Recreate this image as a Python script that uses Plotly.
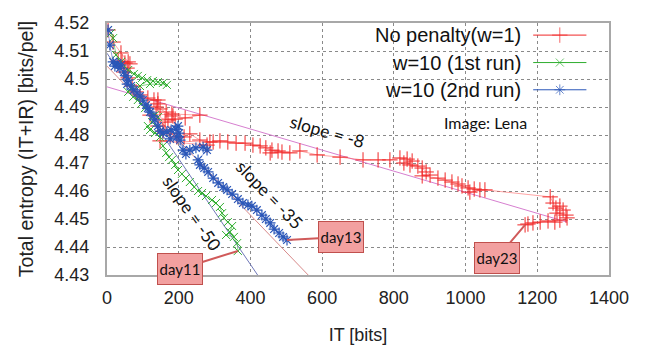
import plotly.graph_objects as go

# ---- data: IT [bits] vs total entropy [bits/pel] per iteration ----
red_it = [3, 17, 39, 59, 42, 31, 50, 64, 56, 47, 59, 70, 81, 92, 114, 131, 142, 142, 137, 148,
          165, 184, 190, 170, 120, 181, 259, 218, 162, 142, 156, 176, 195, 215, 231, 259, 287, 279,
          148, 296, 315, 337, 360, 385, 407, 427, 443, 460, 477, 488, 455, 510, 538, 586, 650, 714,
          756, 789, 817, 837, 851, 828, 845, 867, 879, 890, 901, 879, 923, 943, 962, 979, 990, 1007,
          1024, 1040, 1012, 1054, 1236, 1244, 1252, 1263, 1272, 1255, 1280, 1283, 1263, 1249, 1230,
          1208, 1188, 1174, 1166]
red_h = [4.5175, 4.5132, 4.5093, 4.5061, 4.5061, 4.5064, 4.5057, 4.5054, 4.5039, 4.5025, 4.5004,
         4.4975, 4.4954, 4.4943, 4.4932, 4.4925, 4.4925, 4.4911, 4.4900, 4.4893, 4.4882, 4.4868,
         4.4857, 4.4854, 4.4871, 4.4875, 4.4871, 4.4861, 4.4846, 4.4832, 4.4814, 4.4804, 4.4793,
         4.4793, 4.4804, 4.4782, 4.4775, 4.4764, 4.4779, 4.4775, 4.4779, 4.4775, 4.4771, 4.4771,
         4.4764, 4.4761, 4.4754, 4.4746, 4.4743, 4.4739, 4.4736, 4.4736, 4.4743, 4.4729, 4.4721,
         4.4711, 4.4711, 4.4711, 4.4718, 4.4714, 4.4707, 4.4700, 4.4693, 4.4689, 4.4682, 4.4668,
         4.4657, 4.4654, 4.4646, 4.4639, 4.4632, 4.4625, 4.4618, 4.4611, 4.4607, 4.4604, 4.4596,
         4.4604, 4.4579, 4.4557, 4.4539, 4.4546, 4.4532, 4.4521, 4.4514, 4.4504, 4.4496, 4.4489,
         4.4493, 4.4489, 4.4486, 4.4482, 4.4479]

green_it = [3, 11, 17, 25, 39, 59, 75, 86, 98, 112, 128, 142, 156, 167, 120, 92, 67, 59, 73, 86,
            95, 106, 120, 134, 142, 126, 114, 120, 134, 148, 156, 165, 173, 181, 190, 198, 209, 220,
            231, 243, 254, 265, 276, 293, 304, 315, 321, 326, 337, 349, 343, 332, 354, 363, 365]
green_h = [4.5175, 4.5164, 4.5146, 4.5086, 4.5061, 4.5032, 4.5018, 4.5011, 4.5004, 4.4996, 4.4993,
           4.4989, 4.4986, 4.4979, 4.4982, 4.4975, 4.4968, 4.4954, 4.4936, 4.4925, 4.4911, 4.4896,
           4.4882, 4.4871, 4.4864, 4.4846, 4.4832, 4.4818, 4.4807, 4.4793, 4.4761, 4.4736, 4.4721,
           4.4711, 4.4693, 4.4675, 4.4661, 4.4646, 4.4632, 4.4614, 4.4600, 4.4593, 4.4582, 4.4568,
           4.4557, 4.4543, 4.4521, 4.4504, 4.4489, 4.4475, 4.4454, 4.4443, 4.4436, 4.4414, 4.4386]

blue_it = [3, 8, 17, 28, 39, 22, 36, 47, 53, 59, 56, 67, 75, 84, 92, 100, 109, 114, 120, 128, 134,
           142, 148, 156, 167, 179, 192, 198, 201, 195, 176, 204, 212, 220, 231, 248, 268, 279, 254,
           259, 271, 282, 296, 310, 324, 335, 349, 365, 379, 393, 404, 418, 432, 443, 455, 466, 480,
           491, 502]
blue_h = [4.5175, 4.5121, 4.5061, 4.5057, 4.5050, 4.5046, 4.5039, 4.5025, 4.5011, 4.4996, 4.4982,
          4.4975, 4.4961, 4.4950, 4.4939, 4.4925, 4.4907, 4.4896, 4.4882, 4.4868, 4.4854, 4.4832,
          4.4814, 4.4807, 4.4811, 4.4818, 4.4821, 4.4832, 4.4807, 4.4793, 4.4786, 4.4782, 4.4746,
          4.4732, 4.4746, 4.4754, 4.4757, 4.4746, 4.4711, 4.4693, 4.4682, 4.4668, 4.4646, 4.4629,
          4.4614, 4.4604, 4.4589, 4.4571, 4.4557, 4.4550, 4.4546, 4.4532, 4.4514, 4.4500, 4.4486,
          4.4464, 4.4450, 4.4436, 4.4425]

# reference slope lines (end points)
slope8_it, slope8_h = [0, 1283], [4.4972, 4.4489]
slope35_it, slope35_h = [0, 561], [4.5046, 4.4300]
slope50_it, slope50_h = [0, 420], [4.5092, 4.4300]

series_names = ["No penalty(w=1)", "w=10 (1st run)", "w=10 (2nd run)"]
x_ticks = [0, 200, 400, 600, 800, 1000, 1200, 1400]
y_ticks = [4.43, 4.44, 4.45, 4.46, 4.47, 4.48, 4.49, 4.50, 4.51, 4.52]

FONT = "Liberation Sans, Arial, sans-serif"
RED, RED_L = "#f02828", "rgba(255,90,90,0.55)"
GREEN, GREEN_L = "#2fae2f", "rgba(60,180,60,0.6)"
BLUE, BLUE_L = "#2a56b8", "rgba(70,100,200,0.6)"

fig = go.Figure()

# slope reference lines
for xs, ys, col in [(slope8_it, slope8_h, "#d77fd0"),
                    (slope35_it, slope35_h, "#d88a8a"),
                    (slope50_it, slope50_h, "#7078b8")]:
    fig.add_trace(go.Scatter(x=xs, y=ys, mode="lines", line=dict(color=col, width=1),
                             hoverinfo="skip"))

# trajectories
fig.add_trace(go.Scatter(x=red_it, y=red_h, mode="lines+markers", name=series_names[0],
                         line=dict(color=RED_L, width=1),
                         marker=dict(symbol="cross-thin-open", size=11,
                                     line=dict(color=RED, width=1), color=RED)))
fig.add_trace(go.Scatter(x=green_it, y=green_h, mode="lines+markers", name=series_names[1],
                         line=dict(color=GREEN_L, width=1),
                         marker=dict(symbol="x-thin-open", size=8,
                                     line=dict(color=GREEN, width=1), color=GREEN)))
fig.add_trace(go.Scatter(x=blue_it, y=blue_h, mode="lines+markers", name=series_names[2],
                         line=dict(color=BLUE_L, width=1),
                         marker=dict(symbol="asterisk-open", size=9,
                                     line=dict(color=BLUE, width=1.2), color=BLUE)))

# key samples drawn on an overlay axis spanning [0, 1]
key_rows = [0.952, 0.843, 0.735]
key_cols = [(RED, "cross-thin-open", 11), (GREEN, "x-thin-open", 8), (BLUE, "asterisk-open", 9)]
for row, (col, sym, sz) in zip(key_rows, key_cols):
    fig.add_trace(go.Scatter(x=[0.849, 0.902, 0.955], y=[row] * 3, mode="lines+markers",
                             xaxis="x2", yaxis="y2", hoverinfo="skip",
                             line=dict(color=col, width=1),
                             marker=dict(symbol=sym, size=[0, sz, 0],
                                         line=dict(color=col, width=1), color=col)))

annotations = []
for row, name in zip(key_rows, series_names):
    annotations.append(dict(xref="paper", yref="paper", x=0.828, y=row, text=name,
                            showarrow=False, xanchor="right", yanchor="middle",
                            font=dict(family=FONT, size=20, color="#111")))

annotations.append(dict(xref="paper", yref="paper", x=0.840, y=0.607, text="Image: Lena",
                        showarrow=False, font=dict(family="Lato, sans-serif", size=16,
                                                   color="#111")))

# slope labels
for txt, x, y, ang in [("slope = -8", 614, 4.4811, 16),
                       ("slope = -35", 452, 4.4586, 46),
                       ("slope = -50", 237, 4.4518, 55)]:
    annotations.append(dict(x=x, y=y, text=txt, showarrow=False, textangle=ang,
                            font=dict(family="Lato, sans-serif", size=17.5, color="#111")))

# day call-outs pointing at the final iterate of each run
for txt, x, y, ax, ay in [("day11", green_it[-1], green_h[-1], -58, 18),
                          ("day13", blue_it[-1], blue_h[-1], 54, -3),
                          ("day23", red_it[-1], red_h[-1], -28, 33)]:
    annotations.append(dict(x=x, y=y, text=txt, showarrow=True, ax=ax, ay=ay,
                            arrowhead=0, arrowwidth=2, arrowcolor="#d05a5a",
                            bgcolor="#f2a0a0", bordercolor="#c0504d", borderwidth=1,
                            width=42, height=28,
                            font=dict(family="Lato, sans-serif", size=15, color="#111")))

grid = dict(showgrid=True, gridcolor="#8a8a8a", griddash="dot", gridwidth=1,
            showline=True, mirror=True, linecolor="#a8a8a8", linewidth=2,
            zeroline=False, ticks="", automargin=False,
            tickfont=dict(family=FONT, size=18, color="#222"))

fig.update_layout(
    width=648, height=345,
    margin=dict(l=107, r=39, t=23, b=70),
    plot_bgcolor="white", paper_bgcolor="white",
    showlegend=False,
    xaxis=dict(range=[0, 1400], tickvals=x_ticks, ticklabelstandoff=5,
               title=dict(text="IT [bits]", font=dict(family=FONT, size=18, color="#222"),
                          standoff=30), **grid),
    yaxis=dict(range=[4.43, 4.52], tickvals=y_ticks, ticklabelstandoff=12,
               title=dict(text="Total entropy (IT+IR) [bits/pel]",
                          font=dict(family=FONT, size=19.5, color="#222"), standoff=16), **grid),
    xaxis2=dict(overlaying="x", range=[0, 1], visible=False),
    yaxis2=dict(overlaying="y", range=[0, 1], visible=False),
    annotations=annotations,
    shapes=[dict(type="rect", xref="paper", yref="paper", x0=0.468, x1=0.976, y0=0.683, y1=0.995,
                 fillcolor="white", line=dict(width=0), layer="between")],
)

fig.write_html("out.html")
